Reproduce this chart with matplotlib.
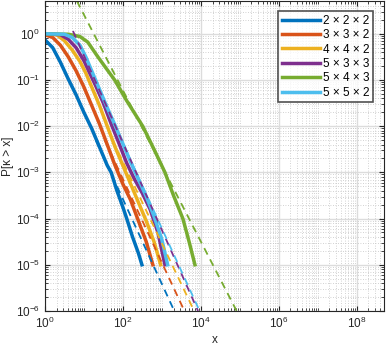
import numpy as np
import matplotlib
matplotlib.use("Agg")
import matplotlib.pyplot as plt
from matplotlib.ticker import FixedLocator, LogLocator, NullFormatter

plt.rcParams['font.family'] = ['Liberation Sans', 'DejaVu Sans']
plt.rcParams['mathtext.fontset'] = 'custom'
plt.rcParams['mathtext.rm'] = 'Liberation Sans'

# series labels and MATLAB default colours
labels = ['2 × 2 × 2', '3 × 3 × 2', '4 × 4 × 2', '5 × 3 × 3', '5 × 4 × 3', '5 × 5 × 2']
colors = ['#0072BD', '#D95319', '#EDB120', '#7E2F8E', '#77AC30', '#4DBEEE']

# empirical tail curves, read as (log10 x, log10 P)
lx_222 = [0, 0.2, 0.4, 0.6, 0.8, 1.0, 1.2, 1.4, 1.6, 1.7, 1.85, 2.0, 2.1, 2.25, 2.4, 2.49]
lp_222 = [-0.13, -0.3, -0.62, -0.98, -1.32, -1.7, -2.05, -2.45, -2.85, -3.0, -3.4, -3.75, -4.0, -4.4, -4.75, -5.0]

lx_332 = [0, 0.2, 0.4, 0.6, 0.8, 1.0, 1.2, 1.4, 1.6, 1.8, 2.0, 2.2, 2.4, 2.6, 2.77]
lp_332 = [-0.02, -0.08, -0.25, -0.5, -0.8, -1.15, -1.55, -1.95, -2.4, -2.85, -3.25, -3.6, -4.05, -4.5, -5.0]

lx_442 = [0, 0.3, 0.5, 0.7, 0.9, 1.05, 1.2, 1.4, 1.6, 1.8, 2.0, 2.2, 2.4, 2.6, 2.8, 2.97]
lp_442 = [0, -0.02, -0.15, -0.35, -0.6, -0.85, -1.15, -1.55, -2.0, -2.45, -2.85, -3.25, -3.65, -4.05, -4.5, -5.0]

lx_533 = [0, 0.4, 0.6, 0.8, 1.0, 1.15, 1.3, 1.5, 1.7, 1.9, 2.1, 2.3, 2.5, 2.7, 2.9, 3.08]
lp_533 = [0, -0.02, -0.12, -0.3, -0.58, -0.85, -1.12, -1.5, -1.95, -2.37, -2.8, -3.15, -3.45, -3.8, -4.3, -5.0]

lx_543 = [0, 0.6, 0.9, 1.1, 1.36, 1.6, 1.79, 2.1, 2.51, 2.8, 3.08, 3.3, 3.54, 3.7, 3.85]
lp_543 = [0, -0.01, -0.06, -0.18, -0.5, -0.78, -1.0, -1.45, -2.0, -2.5, -3.0, -3.5, -4.0, -4.5, -5.0]

lx_552 = [0, 0.5, 0.7, 0.9, 1.05, 1.2, 1.4, 1.6, 1.8, 2.0, 2.2, 2.4, 2.6, 2.8, 3.0, 3.15]
lp_552 = [0, -0.01, -0.08, -0.25, -0.5, -0.8, -1.2, -1.6, -1.98, -2.38, -2.78, -3.15, -3.52, -3.95, -4.45, -5.0]

curves_lx = [lx_222, lx_332, lx_442, lx_533, lx_543, lx_552]
curves_lp = [lp_222, lp_332, lp_442, lp_533, lp_543, lp_552]

# power-law fits (dashed), start and end points in log10
fit_lx = [[1.31, 3.32], [1.54, 3.58], [1.74, 3.83], [0.72, 3.93], [0.82, 4.92], [1.97, 3.97]]
fit_lp = [[-2.31, -6], [-2.31, -6], [-2.31, -6], [0.06, -6], [0.71, -6], [-2.31, -6]]

fig = plt.figure(figsize=(3.87, 3.49), dpi=100)
ax = fig.add_axes([0.116, 0.109, 0.876, 0.889])

for lx, lp, c, lab in zip(curves_lx, curves_lp, colors, labels):
    ax.plot(10 ** np.array(lx), 10 ** np.array(lp), color=c, lw=2.5, label=lab)
for lx, lp, c in zip(fit_lx, fit_lp, colors):
    ax.plot(10 ** np.array(lx), 10 ** np.array(lp), color=c, lw=1.3, ls=(0, (4, 3)))

ax.set_xscale('log')
ax.set_yscale('log')
ax.set_xlim(1, 5e8)
ax.set_ylim(1e-6, 5.2)

ax.xaxis.set_major_locator(FixedLocator([1, 1e2, 1e4, 1e6, 1e8]))
ax.xaxis.set_minor_locator(LogLocator(base=10, subs=np.arange(1, 10), numticks=60))
ax.xaxis.set_minor_formatter(NullFormatter())
ax.yaxis.set_major_locator(FixedLocator([1e-6, 1e-5, 1e-4, 1e-3, 1e-2, 1e-1, 1]))
ax.yaxis.set_minor_locator(LogLocator(base=10, subs=np.arange(2, 10), numticks=60))
ax.yaxis.set_minor_formatter(NullFormatter())

ax.grid(which='major', color='#dcdcdc', lw=1.0, ls='-')
ax.grid(which='minor', color='#c4c4c4', lw=0.6, ls=(0, (1, 2)))
ax.set_axisbelow(True)

ax.tick_params(which='both', direction='in', top=True, right=True, labelsize=8.5, colors='#262626')
ax.tick_params(which='major', length=3.5, width=0.8)
ax.tick_params(which='minor', length=2, width=0.6)
for s in ax.spines.values():
    s.set_color('#262626')
    s.set_linewidth(0.8)

ax.set_xlabel('x', fontsize=8.5, color='#262626', labelpad=2)
ax.set_ylabel('P[κ > x]', fontsize=8.5, color='#262626', labelpad=1)

leg = ax.legend(loc='upper right', fontsize=8.5, frameon=True, fancybox=False,
                handlelength=3.2, handletextpad=0.3, borderpad=0.3, labelspacing=0.2,
                borderaxespad=0.9)
leg.get_frame().set_edgecolor('#262626')
leg.get_frame().set_linewidth(1.2)

fig.savefig('out.png', dpi=100)
